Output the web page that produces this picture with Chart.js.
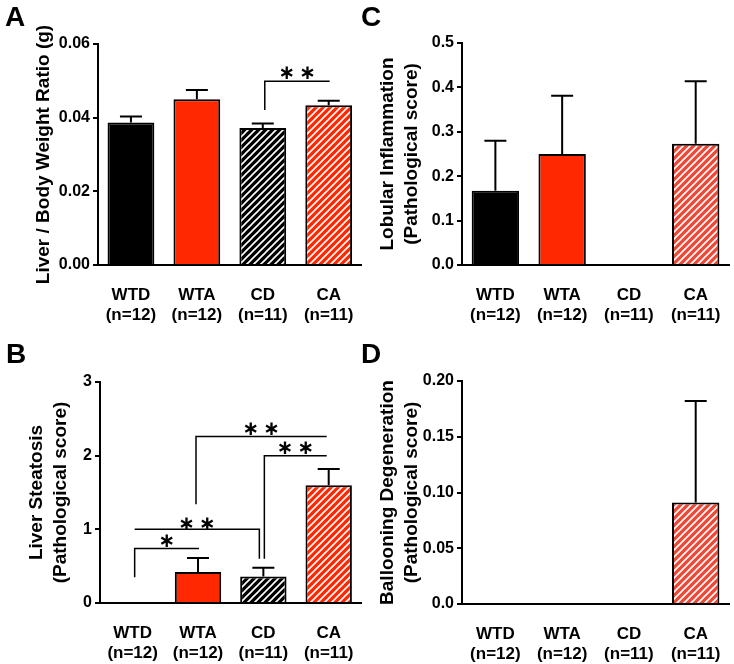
<!DOCTYPE html>
<html><head><meta charset="utf-8">
<script src="https://cdn.jsdelivr.net/npm/chart.js@4.4.0/dist/chart.umd.min.js"></script>
<style>
html,body{margin:0;padding:0;background:#fff;}
#wrap{position:relative;width:734px;height:664px;overflow:hidden;background:#fff;}
canvas{position:absolute;}
.lbl{position:absolute;font:bold 28px 'Liberation Sans',Arial,sans-serif;color:#000;line-height:1;}
</style></head><body>
<div id="wrap">
<canvas id="cA" width="367" height="332" style="left:0;top:0"></canvas>
<canvas id="cC" width="367" height="332" style="left:367px;top:0"></canvas>
<canvas id="cB" width="367" height="332" style="left:0;top:332px"></canvas>
<canvas id="cD" width="367" height="332" style="left:367px;top:332px"></canvas>
<div class="lbl" style="left:5px;top:3px">A</div>
<div class="lbl" style="left:361px;top:3px">C</div>
<div class="lbl" style="left:6px;top:340px">B</div>
<div class="lbl" style="left:361px;top:340px">D</div>
</div>
<script>
// ---- data ----
const groups = ['WTD', 'WTA', 'CD', 'CA'];
const nCounts = ['(n=12)', '(n=12)', '(n=11)', '(n=11)'];

const ratioMean = [0.0387, 0.0450, 0.0372, 0.0434];
const ratioSem = [0.0016, 0.0025, 0.0012, 0.0012];
const ratioTicks = ['0.00', '0.02', '0.04', '0.06'];

const steatosisMean = [0, 0.42, 0.36, 1.60];
const steatosisSem = [0, 0.19, 0.12, 0.22];
const steatosisTicks = ['0', '1', '2', '3'];

const inflammationMean = [0.167, 0.25, 0, 0.273];
const inflammationSem = [0.113, 0.131, 0, 0.141];
const inflammationTicks = ['0.0', '0.1', '0.2', '0.3', '0.4', '0.5'];

const ballooningMean = [0, 0, 0, 0.091];
const ballooningSem = [0, 0, 0, 0.091];
const ballooningTicks = ['0.0', '0.05', '0.10', '0.15', '0.20'];

// significance brackets: from/to category index, bar height, leg bottoms (value or null)
const ratioBrackets = [
  {from: 2, to: 3, y: 0.0499, leftLeg: 0.0421, rightLeg: null, label: '**'}
];
const steatosisBrackets = [
  {from: 0, to: 1, y: 0.74, leftLeg: 0.35, rightLeg: null, label: '*'},
  {from: 0, to: 2, y: 1.0, leftLeg: null, rightLeg: 0.60, label: '**', gap: 5},
  {from: 1, to: 3, y: 2.26, leftLeg: 1.34, rightLeg: null, label: '**'},
  {from: 2, to: 3, y: 2.0, leftLeg: 0.60, rightLeg: null, label: '**'}
];

// ---- styles ----
const FONT = "'Liberation Sans', Arial, sans-serif";
const RED = '#ff2800';
const SALMON = '#ee4838';
function hatch(bg) {
  const s = 7;
  const c = document.createElement('canvas'); c.width = s; c.height = s;
  const g = c.getContext('2d');
  g.fillStyle = bg; g.fillRect(0, 0, s, s);
  g.strokeStyle = '#fff'; g.lineWidth = 1.6;
  g.beginPath();
  g.moveTo(-1, s + 1); g.lineTo(s + 1, -1);
  g.moveTo(-1, 1); g.lineTo(1, -1);
  g.moveTo(s - 1, s + 1); g.lineTo(s + 1, s - 1);
  g.stroke();
  return g.createPattern(c, 'repeat');
}

const extrasPlugin = {
  id: 'extras',
  afterDatasetsDraw(chart, args, opts) {
    const ctx = chart.ctx, xs = chart.scales.x, ys = chart.scales.y;
    const vals = chart.data.datasets[0].data;
    ctx.save();
    ctx.strokeStyle = '#000';
    ctx.lineWidth = 2;
    (opts.errors || []).forEach((e, i) => {
      if (!e) return;
      const cx = xs.getPixelForValue(i);
      const y0 = ys.getPixelForValue(vals[i]);
      const y1 = ys.getPixelForValue(vals[i] + e);
      ctx.beginPath();
      ctx.moveTo(cx, y0); ctx.lineTo(cx, y1);
      ctx.moveTo(cx - 11, y1); ctx.lineTo(cx + 11, y1);
      ctx.stroke();
    });
    ctx.lineWidth = 1.5;
    (opts.brackets || []).forEach(b => {
      const x1 = xs.getPixelForValue(b.from) + (b.fromOff || 0);
      const x2 = xs.getPixelForValue(b.to) + (b.toOff || 0);
      const yy = ys.getPixelForValue(b.y);
      ctx.beginPath();
      if (b.leftLeg !== null) { ctx.moveTo(x1, ys.getPixelForValue(b.leftLeg)); ctx.lineTo(x1, yy); }
      else ctx.moveTo(x1, yy);
      ctx.lineTo(x2, yy);
      if (b.rightLeg !== null) ctx.lineTo(x2, ys.getPixelForValue(b.rightLeg));
      ctx.stroke();
      ctx.fillStyle = '#000';
      ctx.font = "bold 20px 'DejaVu Sans'";
      ctx.textAlign = 'center';
      ctx.textBaseline = 'middle';
      const txt = b.label.split('').map(() => '\u2217').join('\u2009');
      ctx.fillText(txt, (x1 + x2) / 2, yy - (b.gap || 7));
    });
    ctx.restore();
  }
};

function makeChart(id, cfg) {
  const W = 367, H = 332;
  return new Chart(document.getElementById(id), {
    type: 'bar',
    data: {
      labels: groups.map((g, i) => [g, nCounts[i]]),
      datasets: [{
        data: cfg.values,
        backgroundColor: cfg.fills,
        borderColor: '#000',
        borderWidth: 2,
        borderSkipped: 'bottom',
        barPercentage: 0.71,
        categoryPercentage: 1
      }]
    },
    options: {
      responsive: false, animation: false, devicePixelRatio: 1,
      layout: {autoPadding: false, padding: {left: 0, top: cfg.area.top, right: W - cfg.area.right, bottom: 0}},
      plugins: {
        legend: {display: false}, tooltip: {enabled: false},
        extras: {errors: cfg.errors, brackets: cfg.brackets || []}
      },
      scales: {
        x: {
          grid: {display: false},
          border: {display: true, color: '#000', width: 2},
          ticks: {color: '#000', font: {family: FONT, size: 17, weight: 'bold', lineHeight: 1.15}, padding: 13, autoSkip: false, maxRotation: 0},
          afterFit: s => { s.height = H - cfg.area.bottom; }
        },
        y: {
          min: cfg.min, max: cfg.max,
          ticks: {stepSize: cfg.step, color: '#000', padding: 3, font: {family: FONT, size: 16, weight: 'bold'},
            callback: (v, i) => cfg.tickLabels[i]},
          grid: {drawOnChartArea: false, drawTicks: true, tickLength: 5, tickColor: '#000', lineWidth: 2},
          border: {display: true, color: '#000', width: 2},
          title: {display: true, text: cfg.title, color: '#000', font: {family: FONT, size: 19, weight: 'bold', lineHeight: 1.3}, padding: {top: cfg.titlePad, bottom: 0}},
          afterFit: s => { s.width = cfg.area.left; }
        }
      }
    },
    plugins: [extrasPlugin]
  });
}

makeChart('cA', {
  values: ratioMean, errors: ratioSem, brackets: ratioBrackets.map(b => Object.assign({fromOff: 2, toOff: 1}, b)),
  fills: ['#000', RED, hatch('#000'), hatch(RED)],
  min: 0, max: 0.06, step: 0.02, tickLabels: ratioTicks,
  title: 'Liver / Body Weight Ratio (g)', titlePad: 31,
  area: {left: 98, right: 363, top: 44, bottom: 265}
});
makeChart('cC', {
  values: inflammationMean, errors: inflammationSem,
  fills: ['#000', RED, hatch('#000'), hatch(SALMON)],
  min: 0, max: 0.5, step: 0.1, tickLabels: inflammationTicks,
  title: ['Lobular Inflammation', '(Pathological score)'], titlePad: 8,
  area: {left: 95, right: 363, top: 43, bottom: 265}
});
const bOffsets = [{fromOff: 2, toOff: 1}, {fromOff: 2, toOff: -4}, {fromOff: -2, toOff: -2}, {fromOff: 1, toOff: -2}];
makeChart('cB', {
  values: steatosisMean, errors: steatosisSem, brackets: steatosisBrackets.map((b, i) => Object.assign({}, bOffsets[i], b)),
  fills: ['#000', RED, hatch('#000'), hatch(RED)],
  min: 0, max: 3, step: 1, tickLabels: steatosisTicks,
  title: ['Liver Steatosis', '(Pathological score)'], titlePad: 24,
  area: {left: 100, right: 363, top: 50, bottom: 271}
});
makeChart('cD', {
  values: ballooningMean, errors: ballooningSem,
  fills: ['#000', RED, hatch('#000'), hatch(SALMON)],
  min: 0, max: 0.2, step: 0.05, tickLabels: ballooningTicks,
  title: ['Ballooning Degeneration', '(Pathological score)'], titlePad: 8,
  area: {left: 95, right: 363, top: 49, bottom: 272}
});
</script>
</body></html>
